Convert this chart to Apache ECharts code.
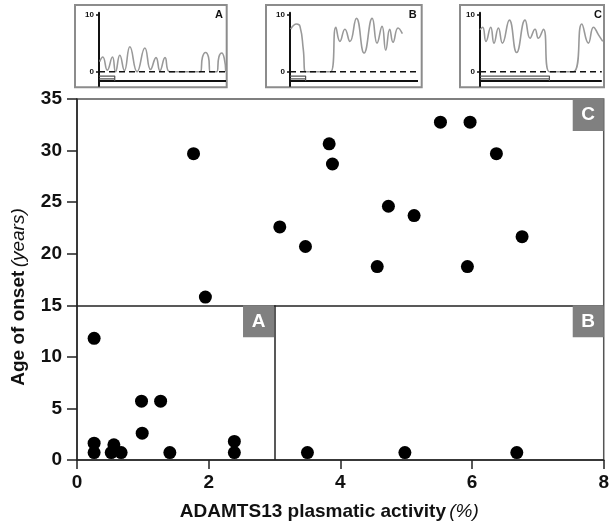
<!DOCTYPE html>
<html>
<head>
<meta charset="utf-8">
<script src="https://cdn.jsdelivr.net/npm/echarts@6/dist/echarts.min.js"></script>
<style>
  html, body { margin: 0; padding: 0; background: #fff; }
  #chart { width: 612px; height: 531px; }
</style>
</head>
<body>
<div id="chart"></div>
<script>
// Patients: ADAMTS13 plasmatic activity (%) vs age of onset (years)
const activity = [0.26, 0.26, 0.26, 0.56, 0.52, 0.67, 0.98, 1.27, 0.99, 1.41, 2.39, 2.39,
                  3.50, 4.98, 6.68,
                  1.77, 1.95, 3.08, 3.47, 3.83, 3.88, 4.73, 5.12, 4.56, 5.52, 5.97, 6.37, 6.76, 5.93];
const onset = [11.8, 1.63, 0.72, 1.47, 0.72, 0.72, 5.7, 5.7, 2.6, 0.72, 1.8, 0.72,
               0.72, 0.72, 0.72,
               29.7, 15.8, 22.6, 20.7, 30.65, 28.7, 24.6, 23.7, 18.75, 32.75, 32.75, 29.7, 21.65, 18.75];

// Group boundaries and labels
const ageCut = 15;
const activityCut = 3;
const groupNames = ['A', 'B', 'C'];

// Main axis ranges
const xTicks = [0, 2, 4, 6, 8];
const yTicks = [0, 5, 10, 15, 20, 25, 30, 35];

// Schematic course of each group (time in %, platelet-like level 0-10)
const courseA = [[0.5, 1.8], [3, 2.6], [6.5, 0.3], [10.6, 2.6], [13, 0], [16.4, 2.9], [20, 0.2],
                 [24.3, 4.4], [30, 0], [36.1, 4.2], [40.6, 0.4], [44.9, 2.5], [48, 0.2], [52, 2.5],
                 [55.7, 0], [79.7, 0], [81.5, 2.6], [83.9, 3.4], [86.2, 2.6], [87.6, 0], [92.6, 0],
                 [94.4, 2.6], [96.6, 3.3], [98.6, 2.4], [99.8, 0]];
const courseB = [[0.5, 7.5], [5.2, 8.4], [7.8, 8], [10.4, 3.9], [12.2, 0], [31.7, 0], [35.8, 7.85],
                 [39, 5.35], [42.9, 7.5], [46.8, 5.35], [51.9, 9.4], [57.9, 3.3], [64.2, 9.4],
                 [68, 5.05], [71.9, 8], [74.8, 3.8], [77.9, 7.5], [80.5, 5.2], [84.4, 7.7], [87.8, 6.7]];
const courseC = [[0, 7.4], [2.2, 7.85], [4.9, 5.35], [8.8, 7.85], [11.5, 5.05], [15.1, 7.7],
                 [18.4, 5.05], [24.1, 9.1], [30.1, 3.4], [37, 9.1], [41.1, 5.9], [45.2, 7.5],
                 [47.9, 5.9], [52.1, 7.5], [57, 0], [76.7, 0], [83.6, 8.4], [89, 5.05], [93.2, 7.85],
                 [97.3, 6.5], [100.8, 5.35]];
// End of the treatment bar in each inset (time %)
const treatEnd = [12.4, 12.2, 57];

const FONT = '"Liberation Sans", Arial, Helvetica, sans-serif';

const chart = echarts.init(document.getElementById('chart'), null, { renderer: 'canvas' });

const insetGrids = [
  { left: 99, top: 12.7, width: 127, height: 73.3 },
  { left: 290, top: 12.7, width: 128, height: 73.3 },
  { left: 480, top: 12.7, width: 123, height: 73.3 }
];
const insetBoxes = [
  { x: 75, y: 5, width: 151.7, height: 82.3, lx: 219 },
  { x: 266, y: 5, width: 155.7, height: 82.3, lx: 412.7 },
  { x: 460, y: 5, width: 144, height: 82.3, lx: 598 }
];
const courses = [courseA, courseB, courseC];

const grids = [{ left: 77, right: 8, top: 99, bottom: 71, show: true, borderColor: '#555', borderWidth: 1.5 }]
  .concat(insetGrids);

const xAxes = [{
  gridIndex: 0, type: 'value', min: xTicks[0], max: xTicks[xTicks.length - 1], interval: 2,
  axisLine: { show: true, onZero: false, lineStyle: { color: '#222', width: 1.5 } },
  axisTick: { show: true, inside: false, length: 9, lineStyle: { color: '#222', width: 1.5 } },
  axisLabel: { fontSize: 19, fontWeight: 'bold', color: '#111', margin: 13, fontFamily: FONT },
  splitLine: { show: false },
  name: '{b|ADAMTS13 plasmatic activity} {i|(%)}',
  nameLocation: 'middle', nameGap: 42,
  nameTextStyle: {
    padding: [0, 22, 0, 0],
    rich: {
      b: { fontSize: 19, fontWeight: 'bold', color: '#111', fontFamily: FONT },
      i: { fontSize: 19, fontStyle: 'italic', color: '#111', fontFamily: FONT }
    }
  }
}];
const yAxes = [{
  gridIndex: 0, type: 'value', min: yTicks[0], max: yTicks[yTicks.length - 1], interval: 5,
  axisLine: { show: true, onZero: false, lineStyle: { color: '#222', width: 1.5 } },
  axisTick: { show: true, inside: false, length: 10, lineStyle: { color: '#222', width: 1.5 } },
  axisLabel: { fontSize: 19, fontWeight: 'bold', color: '#111', margin: 15, fontFamily: FONT },
  splitLine: { show: false },
  name: '{b|Age of onset} {i|(years)}',
  nameLocation: 'middle', nameGap: 49,
  nameTextStyle: {
    padding: [0, 35, 0, 0],
    rich: {
      b: { fontSize: 19, fontWeight: 'bold', color: '#111', fontFamily: FONT },
      i: { fontSize: 19, fontStyle: 'italic', color: '#111', fontFamily: FONT }
    }
  }
}];

const series = [{
  type: 'scatter',
  xAxisIndex: 0, yAxisIndex: 0,
  data: activity.map((a, i) => [a, onset[i]]),
  symbolSize: 13,
  itemStyle: { color: '#000', opacity: 1 },
  markLine: {
    silent: true, symbol: ['none', 'none'], label: { show: false },
    lineStyle: { type: 'solid', color: '#222', width: 1.5 },
    data: [
      [{ coord: [xTicks[0], ageCut] }, { coord: [xTicks[xTicks.length - 1], ageCut] }],
      [{ coord: [activityCut, 0] }, { coord: [activityCut, ageCut] }]
    ]
  },
  markPoint: {
    silent: true, symbol: 'rect', symbolSize: [31, 32],
    itemStyle: { color: '#808080' },
    label: { show: true, formatter: '{b}', color: '#fff', fontSize: 19, fontWeight: 'bold', fontFamily: FONT },
    data: [
      { name: groupNames[0], coord: [activityCut, ageCut], symbolOffset: [-16, 16] },
      { name: groupNames[1], coord: [8, ageCut], symbolOffset: [-15.5, 16] },
      { name: groupNames[2], coord: [8, 35], symbolOffset: [-15.5, 16] }
    ]
  }
}];

const graphics = [];
courses.forEach((course, k) => {
  const g = k + 1;
  xAxes.push({ gridIndex: g, type: 'value', min: 0, max: k === 2 ? 101 : 100, show: false });
  yAxes.push({
    gridIndex: g, type: 'value', min: -2.5, max: 10.4,
    axisLine: { show: true, onZero: false, lineStyle: { color: '#111', width: 2 } },
    axisTick: { show: true, customValues: [0, 10], length: 3, lineStyle: { color: '#111', width: 1.5 } },
    axisLabel: { show: true, customValues: [0, 10], fontSize: 8, fontWeight: 'bold', color: '#111', margin: 5, fontFamily: FONT },
    splitLine: { show: false }
  });
  // fluctuating course
  series.push({
    type: 'line', xAxisIndex: g, yAxisIndex: g, data: course,
    smooth: 0.5, showSymbol: false, silent: true, clip: false,
    lineStyle: { color: '#999', width: 1.6 }
  });
  // zero reference (dashed)
  series.push({
    type: 'line', xAxisIndex: g, yAxisIndex: g, data: [[0, 0], [100, 0]],
    showSymbol: false, silent: true,
    lineStyle: { color: '#111', width: 1.5, type: [6, 4] }
  });
  // time axis
  series.push({
    type: 'line', xAxisIndex: g, yAxisIndex: g, data: [[0, -1.6], [100, -1.6]],
    showSymbol: false, silent: true,
    lineStyle: { color: '#111', width: 2 }
  });
  // treatment bar
  series.push({
    type: 'line', xAxisIndex: g, yAxisIndex: g,
    data: [[0, -0.75], [treatEnd[k], -0.75], [treatEnd[k], -1.6]],
    showSymbol: false, silent: true,
    lineStyle: { color: '#555', width: 1.2 }
  });
  series.push({
    type: 'line', xAxisIndex: g, yAxisIndex: g,
    data: [[0, -1.25], [treatEnd[k], -1.25]],
    showSymbol: false, silent: true,
    lineStyle: { color: '#555', width: 1.2 }
  });
  const b = insetBoxes[k];
  graphics.push({
    type: 'rect', shape: { x: b.x, y: b.y, width: b.width, height: b.height },
    style: { fill: 'none', stroke: '#8c8c8c', lineWidth: 2 }, silent: true
  });
  graphics.push({
    type: 'text', x: b.lx, y: 15, silent: true,
    style: { text: groupNames[k], fontSize: 11, fontWeight: 'bold', fill: '#111', fontFamily: FONT, align: 'center', verticalAlign: 'middle' }
  });
});

chart.setOption({
  animation: false,
  backgroundColor: '#fff',
  grid: grids,
  xAxis: xAxes,
  yAxis: yAxes,
  series: series,
  graphic: graphics
});
</script>
</body>
</html>
